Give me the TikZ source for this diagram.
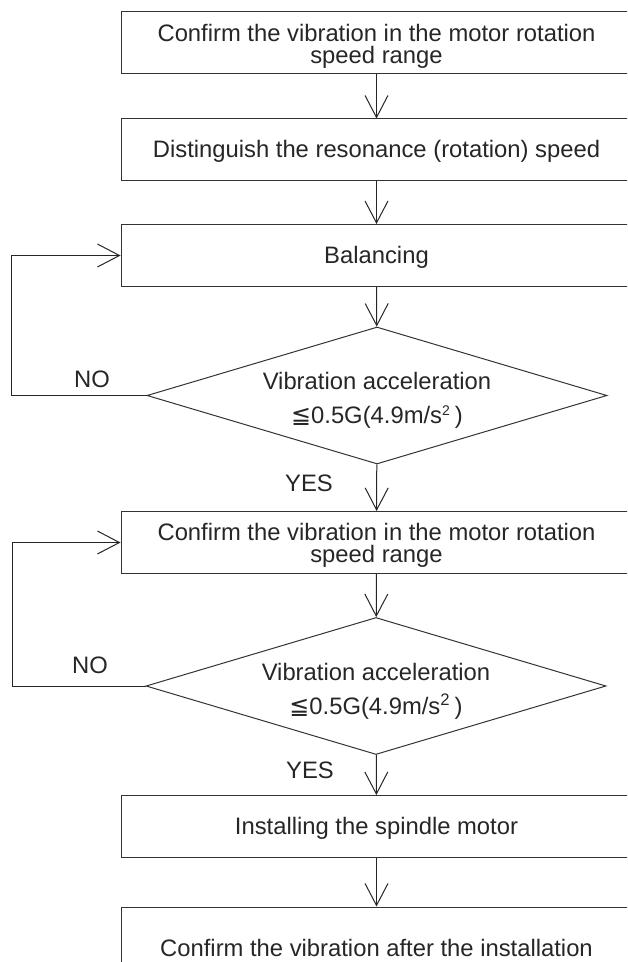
\documentclass[tikz,border=0pt]{standalone}
\usepackage{fontspec}
\setmainfont{Liberation Sans}
\newfontfamily\symfont{DejaVu Sans}
\usetikzlibrary{shapes.geometric,arrows.meta}

\tikzset{
  stepbox/.style={draw=black!80, line width=0.5pt, minimum width=255.5pt,
    minimum height=31pt, inner sep=0pt, align=center, text=black!85,
    font=\fontsize{11.9}{11}\selectfont},
  check/.style={diamond, draw=black!80, line width=0.5pt, aspect=3.36,
    minimum width=230pt, minimum height=68.5pt, inner sep=0pt, align=center,
    text=black!85, font=\fontsize{11.9}{17}\selectfont},
  flow/.style={-{Straight Barb[length=11pt,width=11.5pt]}, line width=0.5pt, draw=black!85},
  answer/.style={font=\fontsize{11.9}{14}\selectfont, text=black!85, inner sep=0pt}
}

\begin{document}
\begin{tikzpicture}[x=0.5pt,y=-0.5pt]
  \useasboundingbox (0,0) rectangle (627,962);
  \clip (0,0) rectangle (627,962);

  % --- first pass: balancing ---
  \node[stepbox] (range1) at (376.5,43) {\rule{0pt}{11.5pt}Confirm the vibration in the motor rotation\\speed range};
  \node[stepbox] (resonance) at (376.5,150) {\rule{0pt}{10pt}Distinguish the resonance (rotation) speed};
  \node[stepbox] (balance) at (376.5,255.5) {\rule{0pt}{10pt}Balancing};
  \node[check] (accel1) at (377,395.5) {\rule{0pt}{13.7pt}Vibration acceleration\\{\symfont ≦}0.5G(4.9m/s\textsuperscript{\scriptsize 2}\,)};

  % --- second pass: check again ---
  \node[stepbox] (range2) at (376.5,542.5) {\rule{0pt}{11.5pt}Confirm the vibration in the motor rotation\\speed range};
  \node[check] (accel2) at (376,686) {\rule{0pt}{13.7pt}Vibration acceleration\\{\symfont ≦}0.5G(4.9m/s\textsuperscript{2}\,)};

  % --- installation ---
  \node[stepbox] (install) at (376.5,826.5) {\rule{0pt}{10pt}Installing the spindle motor};
  \node[stepbox, minimum height=40pt] (after) at (376.5,947) {\rule{0pt}{10pt}Confirm the vibration after the installation};

  % Answers
  \node[answer] (no1) at (92,379) {NO};
  \node[answer] (yes1) at (309,483) {YES};
  \node[answer] (no2) at (90,665) {NO};
  \node[answer] (yes2) at (310,770) {YES};

  % Flow
  \draw[flow] (range1) -- (resonance);
  \draw[flow] (resonance) -- (balance);
  \draw[flow] (balance) -- (accel1);
  \draw[flow] (accel1) -- (range2);
  \draw[flow] (range2) -- (accel2);
  \draw[flow] (accel2) -- (install);
  \draw[flow] (install) -- (after);

  % NO loops back
  \draw[flow] (accel1.west) -- ++(-135,0) |- (balance.west);
  \draw[flow] (accel2.west) -- ++(-133,0) |- (range2.west);
\end{tikzpicture}
\end{document}
